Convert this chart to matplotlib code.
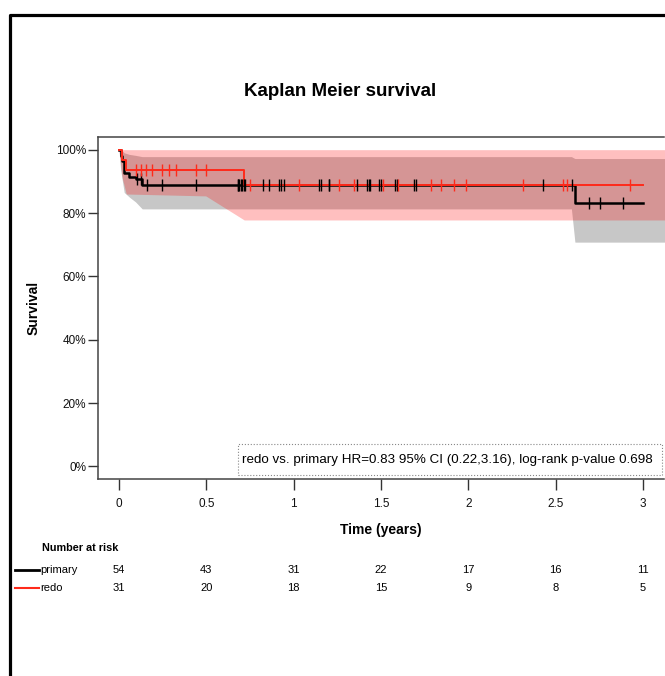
import numpy as np
import matplotlib
matplotlib.use('Agg')
import matplotlib.pyplot as plt
import matplotlib.transforms as mtransforms
from matplotlib.lines import Line2D
from matplotlib.patches import Rectangle

plt.rcParams['font.family'] = ['Liberation Sans', 'DejaVu Sans']

# Kaplan-Meier steps (time in years, survival in %)
prim_t = [0, 0.01, 0.02, 0.03, 0.06, 0.095, 0.133, 2.61, 3.0]
prim_s = [100, 98.1, 96.3, 92.6, 91.4, 90.6, 88.9, 83.2, 83.2]
redo_t = [0, 0.019, 0.042, 0.717, 3.0]
redo_s = [100, 96.8, 93.5, 89.0, 89.0]

# censoring times
prim_cens = [0.105, 0.124, 0.163, 0.249, 0.44, 0.679, 0.684, 0.688, 0.698, 0.707,
             0.713, 0.72, 0.822, 0.861, 0.918, 0.928, 0.947, 1.144, 1.157, 1.201,
             1.205, 1.362, 1.419, 1.43, 1.438, 1.488, 1.501, 1.578, 1.591, 1.687,
             1.698, 2.425, 2.591, 2.693, 2.754, 2.888]
redo_cens = [0.096, 0.124, 0.153, 0.191, 0.245, 0.287, 0.329, 0.443, 0.497, 0.752,
             1.033, 1.262, 1.348, 1.511, 1.60, 1.788, 1.846, 1.916, 1.985, 2.31,
             2.54, 2.563, 2.926]

# confidence bands
prim_ci_t = [0, 0.01, 0.02, 0.03, 0.06, 0.095, 0.133, 2.59, 2.61, 3.15]
prim_ci_lo = [100, 93.5, 90, 86.5, 85.0, 83.5, 81.3, 81.3, 70.8, 70.8]
prim_ci_hi = [100, 100, 99.6, 99, 98.5, 98.2, 97.8, 97.8, 97.2, 97.2]
redo_ci_t = [0, 0.019, 0.042, 0.497, 0.717, 3.15]
redo_ci_lo = [100, 91, 86.0, 85.4, 77.8, 77.8]
redo_ci_hi = [100, 100, 100, 100, 100, 100]

# number at risk
risk_times = [0, 0.5, 1, 1.5, 2, 2.5, 3]
risk_labels = ['0', '0.5', '1', '1.5', '2', '2.5', '3']
risk_primary = [54, 43, 31, 22, 17, 16, 11]
risk_redo = [31, 20, 18, 15, 9, 8, 5]

annot = 'redo vs. primary HR=0.83 95% CI (0.22,3.16), log-rank p-value 0.698'


def level(ts, ss, c):
    idx = np.searchsorted(ts, c, side='right') - 1
    return np.array(ss)[idx]


W, H = 665, 676
fig = plt.figure(figsize=(W / 100, H / 100), dpi=100)
ax = fig.add_axes([98 / W, 1 - 479 / H, 566 / W, 342 / H])

ax.fill_between(prim_ci_t, prim_ci_lo, prim_ci_hi, color='black', alpha=0.22, lw=0)
ax.fill_between(redo_ci_t, redo_ci_lo, redo_ci_hi, color='red', alpha=0.25, lw=0)
ax.step(prim_t, prim_s, where='post', color='black', lw=1.8)
ax.step(redo_t, redo_s, where='post', color='#ff2a1a', lw=1.4)
ax.plot(prim_cens, level(prim_t, prim_s, prim_cens), ls='none', marker='|',
        ms=8, mew=1, color='black')
ax.plot(redo_cens, level(redo_t, redo_s, redo_cens), ls='none', marker='|',
        ms=8, mew=1, color='#ff2a1a')

ax.set_xlim(-0.12, 3.12)
ax.set_ylim(-4, 104)
ax.set_xticks(risk_times)
ax.set_xticklabels(risk_labels)
ax.set_yticks([0, 20, 40, 60, 80, 100])
ax.set_yticklabels([f'{v}%' for v in [0, 20, 40, 60, 80, 100]])
ax.tick_params(axis='x', length=8, width=1, labelsize=8.5, pad=5.5, colors='#333')
ax.tick_params(axis='y', length=7, width=1, labelsize=8.5, pad=1.5, colors='#333')
ax.tick_params(labelcolor='#111')
ax.spines['right'].set_visible(False)
for s in ['left', 'top', 'bottom']:
    ax.spines[s].set_color('#444')
    ax.spines[s].set_linewidth(1.1)

ax.set_xlabel('Time (years)', fontsize=10, fontweight='bold')
ax.xaxis.set_label_coords(0.5, (479 - 530) / 342)
ax.xaxis.label.set_va('center')
ax.set_ylabel('Survival', fontsize=10, fontweight='bold')
ax.yaxis.set_label_coords((34 - 98) / 566, 0.5)
ax.yaxis.label.set_va('center')

# annotation box
ax.add_patch(Rectangle((0.247, 0.0117), 0.7495, 0.0906, transform=ax.transAxes,
                       fill=False, ls=':', ec='#888', lw=0.8))
ax.text(0.9806, 0.0556, annot, transform=ax.transAxes, ha='right', va='center',
        fontsize=9.6)

fig.text(340 / W, 1 - 92 / H, 'Kaplan Meier survival', ha='center', va='center',
         fontsize=13.5, fontweight='bold')

# risk table
trans = mtransforms.blended_transform_factory(ax.transData, fig.transFigure)
fig.text(42 / W, 1 - 548 / H, 'Number at risk', fontsize=7.8, fontweight='bold',
         ha='left', va='center')
rows = [('primary', risk_primary, 'black', 2.0, 570), ('redo', risk_redo, '#ff2a1a', 1.5, 588)]
for name, vals, col, lw, ypx in rows:
    y = 1 - ypx / H
    fig.add_artist(Line2D([15 / W, 39 / W], [y, y], transform=fig.transFigure,
                          color=col, lw=lw))
    fig.text(40 / W, y, name, fontsize=8, ha='left', va='center')
    for t, v in zip(risk_times, vals):
        fig.text(t, y, str(v), transform=trans, fontsize=8, ha='center', va='center')

# outer frame
fig.add_artist(Line2D([10 / W, 10 / W, 1.01], [-0.01, 1 - 15 / H, 1 - 15 / H],
                      transform=fig.transFigure, color='black', lw=2.3))

fig.savefig('out.png', dpi=100)
